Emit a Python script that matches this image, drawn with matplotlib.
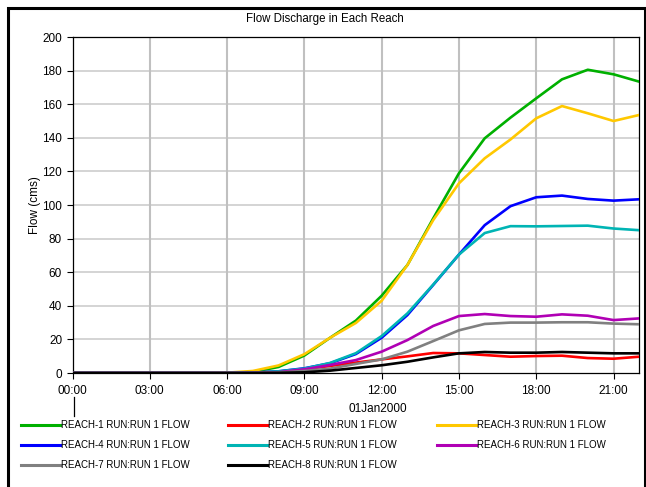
import matplotlib
matplotlib.use("Agg")
import matplotlib.pyplot as plt
from matplotlib.patches import Rectangle
from matplotlib.lines import Line2D

plt.rcParams['font.family'] = ['Liberation Sans', 'DejaVu Sans']

hours = list(range(23))
reach1 = [0, 0, 0, 0, 0, 0, 0, 0.6, 3.6, 10.4, 21, 31.2, 46, 64.3, 92, 118.9, 139.7, 152, 163.5, 174.8, 180.5, 177.8, 173.4]
reach2 = [0, 0, 0, 0, 0, 0, 0, 0.2, 0.8, 2.2, 4.2, 6.2, 8.1, 9.9, 11.9, 11.7, 10.7, 9.7, 10.1, 10.3, 8.9, 8.5, 9.7]
reach3 = [0, 0, 0, 0, 0, 0, 0.2, 1.2, 4.5, 11.2, 21, 29.8, 43, 64.3, 91, 112.9, 127.8, 139, 151.6, 158.9, 154.6, 150, 153.6]
reach4 = [0, 0, 0, 0, 0, 0, 0, 0.2, 1, 2.8, 5.8, 11.3, 21, 34.5, 52.4, 70.5, 88, 99.3, 104.6, 105.6, 103.6, 102.6, 103.4]
reach5 = [0, 0, 0, 0, 0, 0, 0, 0.2, 1, 2.6, 6, 11.8, 22, 35.5, 52.6, 70.5, 83.3, 87.4, 87.3, 87.5, 87.7, 86, 85]
reach6 = [0, 0, 0, 0, 0, 0, 0, 0.1, 0.5, 2.2, 4.8, 7.7, 12.7, 19.6, 28, 33.9, 35.1, 33.9, 33.5, 34.9, 34.1, 31.5, 32.5]
reach7 = [0, 0, 0, 0, 0, 0, 0, 0, 0.3, 1.2, 2.6, 5.4, 8.1, 12.7, 19, 25.4, 29.2, 30, 30, 30.2, 30.2, 29.4, 29]
reach8 = [0, 0, 0, 0, 0, 0, 0, 0, 0.1, 0.4, 1.4, 3, 4.6, 6.7, 9.3, 11.7, 12.5, 12.1, 12.1, 12.5, 12.1, 11.7, 11.7]

series = [reach1, reach2, reach3, reach4, reach5, reach6, reach7, reach8]
names = ["REACH-%d RUN:RUN 1 FLOW" % i for i in range(1, 9)]
colors = ["#00b000", "#ff0000", "#ffc800", "#0000ff", "#00b4b4", "#b000b4", "#808080", "#000000"]

xtick_pos = [0, 3, 6, 9, 12, 15, 18, 21]
xtick_labels = ["00:00", "03:00", "06:00", "09:00", "12:00", "15:00", "18:00", "21:00"]
ytick_pos = [0, 20, 40, 60, 80, 100, 120, 140, 160, 180, 200]

W, H = 646, 487
fig = plt.figure(figsize=(W / 100, H / 100), dpi=100)
ax = fig.add_axes([72.5 / W, 1 - 373 / H, (639.3 - 72.5) / W, (373 - 37) / H])

for v in ytick_pos[1:-1]:
    ax.axhline(v, color="#d4d4d4", lw=1.4, zorder=1)
for v in xtick_pos[1:]:
    ax.axvline(v, color="#c0c0c0", lw=1.5, zorder=1)

handles = []
for s, c, n in zip(series, colors, names):
    h, = ax.plot(hours, s, color=c, lw=1.9, label=n, zorder=3, solid_joinstyle='round')
    handles.append(h)

ax.set_xlim(0, 22)
ax.set_ylim(0, 200)
ax.set_xticks(xtick_pos)
ax.set_xticklabels(xtick_labels)
ax.set_yticks(ytick_pos)
ax.tick_params(axis='both', direction='out', length=4, width=0.8, labelsize=8.5, colors='black')
ax.tick_params(axis='x', pad=4.5)
for sp in ax.spines.values():
    sp.set_linewidth(0.9)
ax.set_ylabel("Flow (cms)", fontsize=8.5)
ax.yaxis.set_label_coords((41 - 72.5) / (639.3 - 72.5), 0.5)

fig.text(325 / W, 1 - 19 / H, "Flow Discharge in Each Reach", ha='center', va='center', fontsize=8.3)
fig.text(378 / W, 1 - 408.5 / H, "01Jan2000", ha='center', va='center', fontsize=8.5)
fig.add_artist(Line2D([73.5 / W, 73.5 / W], [1 - 397 / H, 1 - 416 / H], color='black', lw=0.9))

fig.add_artist(Rectangle((7.5 / W, -20 / H), (644.5 - 7.5) / W, (487 - 8 + 20) / H,
                         fill=False, edgecolor='black', lw=2.2, transform=fig.transFigure))

columns = [[0, 3, 6], [1, 4, 7], [2, 5]]
col_x = [21, 228, 437]
for cx, idx in zip(col_x, columns):
    leg = fig.legend([handles[i] for i in idx], [names[i] for i in idx],
                     loc='upper left', bbox_to_anchor=(cx / W, 1 - 420.5 / H), ncol=1,
                     frameon=False, fontsize=7.0, handlelength=4.0, handletextpad=0.12,
                     labelspacing=1.02, borderpad=0, borderaxespad=0)
    for ln in leg.get_lines():
        ln.set_linewidth(2.2)

fig.savefig("out.png", dpi=100)
